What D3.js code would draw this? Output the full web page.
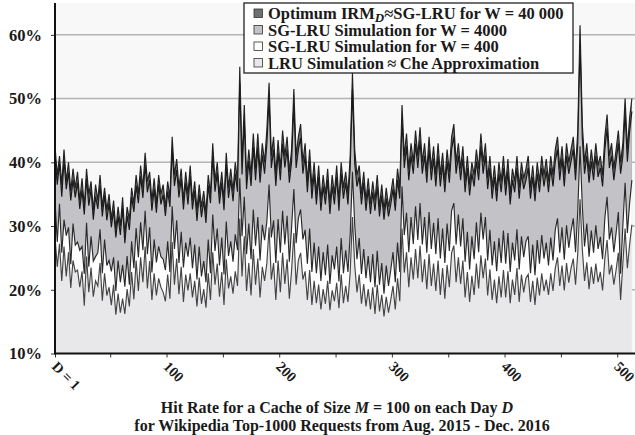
<!DOCTYPE html>
<html>
<head>
<meta charset="utf-8">
<script src="https://cdn.jsdelivr.net/npm/d3@7"></script>
<style>
  body { margin: 0; background: #ffffff; }
  text { font-family: "Liberation Serif", "Times New Roman", serif; font-weight: bold; fill: #1a1a1a; }
</style>
</head>
<body>
<div id="chart"></div>
<script>
// every 2nd day, D = 1 .. 513
var days = d3.range(1, 514, 2);

// Optimum IRM_D ~ SG-LRU for W = 40 000
var optimum = [
  42.5, 38, 41, 36.5, 42, 37, 40, 35.5, 39, 36,
  38.5, 34, 37.5, 33, 39, 35, 37, 32.5, 36.5, 34,
  38, 33, 36, 32.5, 35, 31, 34, 29.5, 33, 30,
  34.5, 28.5, 33, 31, 36, 33.5, 38, 35, 39.5, 36,
  41.5, 37, 38.5, 34, 37.5, 33.5, 38, 35, 36.5, 33,
  37, 34.5, 44, 38, 40.5, 36, 39, 34, 38.5, 35,
  39.5, 34, 37, 32.5, 36.5, 33, 35.5, 32, 38, 35,
  43, 37, 40, 35, 38.5, 34, 41.5, 36, 39, 35.5,
  40, 37, 55, 40, 49, 37.5, 42, 38, 44.5, 39,
  44.5, 38.5, 43, 40, 45, 52.5, 41, 44, 38, 43.5,
  39, 45, 41, 44, 38.5, 42, 51.5, 41, 44, 46,
  40, 43, 37, 42, 36, 40, 35, 39.5, 34, 38,
  35, 39, 33.5, 38, 35, 39.5, 34, 40, 36, 38.5,
  35, 41, 54, 42, 38, 39.5, 35, 38.5, 34, 37.5,
  33.5, 37, 34, 38, 33, 36.5, 32.5, 36, 33, 35,
  37.5, 34, 39, 36, 49, 41, 44.5, 39, 43, 40,
  45, 41, 45.5, 40, 43, 38.5, 44, 39, 42.5, 38,
  43, 38, 41.5, 37, 42, 38.5, 44, 46, 40, 43,
  39, 42.5, 37, 41, 36.5, 40, 38, 42, 39, 44.5,
  40, 43, 37.5, 41, 36, 39.5, 35.5, 40, 37, 41,
  36.5, 40.5, 35, 39, 37, 41, 36, 40, 37.5, 39,
  41, 36, 39.5, 35.5, 40, 37, 41, 38, 40.5, 37,
  41, 38, 42, 44, 39, 42.5, 38, 43, 40, 42,
  44, 39, 45, 61.5, 46, 40, 43, 38.5, 42, 39,
  43, 39.5, 41, 38, 44, 47.5, 41, 43, 39, 42,
  45, 40, 43, 50, 42, 47, 50
];

// SG-LRU simulation, W = 4000
var sg4000 = [
  41, 36.5, 39.8, 34.6, 40.3, 35.8, 38.4, 34, 37.2, 34.5,
  36.8, 32.7, 35.6, 31.8, 37.4, 33.2, 35.8, 31, 34.6, 32.7,
  36.4, 31.5, 34.8, 30.9, 33.6, 29.8, 32.4, 28.2, 31.5, 28.6,
  32.8, 27.3, 31.6, 29.4, 34.5, 32.2, 36.3, 33.6, 37.8, 34.4,
  39.6, 35.3, 37.2, 32.4, 35.8, 32.1, 36.5, 33.4, 34.9, 31.6,
  35.4, 33, 42, 36.3, 38.8, 34.5, 37.4, 32.6, 36.8, 33.4,
  37.8, 32.6, 35.5, 30.8, 34.9, 31.4, 33.9, 30.5, 36.3, 33.6,
  41, 35.4, 38.3, 33.5, 36.8, 32.5, 39.6, 34.4, 37.3, 33.9,
  38.2, 35.4, 52.5, 38.1, 46.5, 35.8, 40.2, 36.3, 42.4, 37.2,
  42.3, 36.8, 41.1, 38.2, 42.8, 50, 39.1, 42, 36.3, 41.5,
  37.2, 42.9, 39.2, 42, 36.8, 40.1, 49, 39.1, 42, 43.8,
  38.2, 41, 35.3, 40.1, 34.3, 38.2, 33.4, 37.7, 32.4, 36.2,
  33.4, 37.2, 31.9, 36.2, 33.4, 37.7, 32.4, 38.2, 34.3, 36.8,
  33.4, 39.1, 51.5, 39.8, 36.2, 37.7, 33.4, 36.8, 32.4, 35.8,
  31.9, 35.3, 32.4, 36.2, 31.5, 34.8, 31, 34.3, 31.5, 33.4,
  35.8, 32.4, 37.2, 34.3, 46.8, 39.1, 42.5, 37.2, 41, 38.2,
  42.9, 39.1, 43.4, 38.2, 41, 36.8, 42, 37.2, 40.6, 36.2,
  41, 36.2, 39.6, 35.3, 40.1, 36.8, 42, 44, 38.2, 41,
  37.2, 40.6, 35.3, 39.1, 34.8, 38.2, 36.2, 40.1, 37.2, 42.5,
  38.2, 41, 35.8, 39.1, 34.3, 37.7, 33.9, 38.2, 35.3, 39.1,
  34.8, 38.6, 33.4, 37.2, 35.3, 39.1, 34.3, 38.2, 35.8, 37.2,
  39.1, 34.3, 37.7, 33.9, 38.2, 35.3, 39.1, 36.2, 38.6, 35.3,
  39.1, 36.2, 40.1, 42, 37.2, 40.6, 36.2, 41, 38.2, 40.1,
  42, 37.2, 43, 58.5, 43.8, 38.2, 41, 36.8, 40.1, 37.2,
  41, 37.7, 39.1, 36.2, 42, 45.3, 39.1, 41, 37.2, 40.1,
  43, 38.2, 41, 47.8, 40.1, 44.8, 48
];

// SG-LRU simulation, W = 400
var sg400 = [
  34, 27.5, 33.5, 25.8, 31, 28.5, 29.8, 24, 30.4, 27,
  27.5, 26.2, 26.8, 22.5, 30.5, 23.6, 28.4, 24.5, 25.2, 25.8,
  29.5, 22.6, 27.9, 23.8, 24.6, 22.9, 25.1, 19.8, 24.6, 21.2,
  23.9, 20.5, 25.3, 20.8, 27.6, 23.4, 29.7, 25.1, 30.6, 26.2,
  32.4, 25.6, 29.8, 22.7, 27.9, 24.3, 26.8, 25.2, 24.8, 23.1,
  27.6, 22.8, 33.1, 26.4, 30.9, 24.2, 29.1, 23.5, 27.4, 25.2,
  28.2, 23.4, 27.1, 21.6, 26.8, 22.1, 24.5, 21.2, 27.9, 22.6,
  31.8, 26.1, 29.6, 23.8, 28.2, 22.4, 30.7, 25.3, 27.6, 24.4,
  28.7, 26.2, 37.5, 28.4, 34.6, 25.6, 30.4, 24.8, 32.6, 26.9,
  31.4, 24.6, 30.2, 27.8, 30.6, 36.5, 28.2, 30.9, 24.2, 31.1,
  25.8, 32.4, 27.1, 31.6, 24.4, 29.8, 35.8, 27.3, 31.2, 32.6,
  27.9, 29.4, 24.1, 29.6, 22.8, 27.4, 22.6, 26.8, 21.4, 25.9,
  22.3, 27.1, 20.9, 25.4, 23.2, 26.8, 21.3, 28.1, 22.6, 26.2,
  22.8, 28.6, 38.5, 30.2, 24.8, 28.1, 22.5, 26.4, 21.8, 25.3,
  21.2, 25.6, 20.4, 26.1, 20.8, 24.2, 19.4, 23.8, 20.6, 23.1,
  25.9, 21.2, 27.4, 22.8, 36.2, 28.6, 32.1, 25.9, 31.4, 27.2,
  33.1, 27.8, 33.6, 27.1, 31.4, 25.8, 32.2, 26.4, 30.5, 25.6,
  31.2, 24.9, 29.6, 24.2, 30.4, 26.1, 32.4, 33.6, 27.1, 31.8,
  26.8, 31.2, 24.4, 29.1, 23.2, 28.4, 24.8, 30.6, 25.9, 32.1,
  27.9, 31.4, 24.6, 29.4, 23.8, 27.6, 22.9, 28.1, 24.2, 29.3,
  24.1, 28.9, 22.8, 27.4, 24.6, 29.5, 23.2, 28.4, 25.1, 27.6,
  28.4, 22.6, 27.1, 22.3, 27.8, 24.1, 28.6, 24.9, 27.4, 23.8,
  28.2, 24.6, 29.4, 31.2, 25.8, 29.8, 24.7, 30.1, 26.6, 29.2,
  31.2, 25.9, 32.4, 42.5, 33.1, 26.8, 30.4, 25.2, 29.3, 25.8,
  30.1, 26.4, 28.3, 24.8, 31.2, 34.6, 27.9, 29.8, 25.9, 28.9,
  32.2, 22.5, 30.1, 36.8, 28.9, 33.6, 37.2
];

// LRU simulation ~ Che approximation
var lru = [
  28.4, 23.6, 27.2, 21.4, 26.8, 22.1, 25.9, 20.3, 24.6, 22.8,
  23.1, 20.4, 22.9, 17.5, 25.2, 19.6, 23.5, 18.9, 21.4, 20.6,
  24.2, 18.3, 22.6, 19.1, 20.4, 17.6, 20.8, 16.1, 19.4, 16.4,
  18.6, 16.2, 20.1, 17.4, 22.8, 18.5, 24.6, 19.8, 25.1, 21.2,
  26.8, 20.2, 24.5, 18.4, 22.6, 19.1, 21.8, 20.4, 19.6, 18.2,
  22.4, 18.6, 27.5, 20.8, 24.9, 19.3, 23.6, 18.1, 22.4, 19.9,
  22.6, 18.8, 21.4, 17.4, 21.9, 17.8, 20.1, 17.2, 22.6, 18.4,
  25.9, 20.8, 24.1, 18.9, 22.8, 17.6, 24.8, 20.2, 22.1, 19.4,
  22.9, 20.6, 31.2, 22.1, 28.4, 19.8, 24.2, 19.1, 26.4, 20.8,
  24.9, 18.8, 23.6, 21.4, 24.1, 29.8, 21.6, 24.2, 18.4, 24.6,
  19.6, 25.8, 20.9, 24.8, 18.6, 23.1, 28.9, 20.8, 24.6, 25.8,
  21.6, 22.9, 18.4, 23.1, 17.6, 21.4, 17.9, 20.8, 16.9, 20.1,
  17.8, 21.4, 16.8, 19.9, 18.2, 21.1, 17.1, 22.4, 17.9, 20.6,
  18.1, 22.8, 31.4, 23.9, 19.6, 22.4, 17.8, 20.9, 17.4, 20.1,
  16.9, 20.4, 16.2, 20.8, 16.6, 19.2, 15.8, 18.9, 16.4, 18.4,
  20.6, 16.9, 21.8, 18.2, 29.6, 22.7, 25.9, 20.4, 25.1, 21.6,
  26.4, 21.8, 26.9, 21.2, 24.8, 20.1, 25.6, 20.6, 24.1, 19.8,
  24.6, 19.2, 23.4, 18.6, 23.9, 20.4, 25.8, 26.9, 21.2, 25.1,
  20.9, 24.6, 18.8, 22.8, 18.1, 22.2, 19.2, 24.1, 20.2, 25.4,
  21.8, 24.9, 19.1, 23.2, 18.4, 21.6, 17.9, 22.1, 18.8, 23.1,
  18.8, 22.9, 17.9, 21.6, 19.2, 23.4, 18.1, 22.4, 19.6, 21.8,
  22.4, 18.1, 21.4, 17.6, 21.9, 19.1, 22.6, 19.8, 21.6, 19.2,
  22.6, 19.8, 23.4, 25.1, 20.6, 23.8, 19.9, 24.2, 21.1, 23.4,
  24.9, 20.8, 25.8, 34.2, 26.4, 21.4, 24.3, 20.1, 23.6, 20.9,
  24.1, 21.2, 22.8, 19.9, 24.9, 27.8, 22.4, 23.9, 20.8, 23.1,
  25.8, 18.4, 24.2, 29.6, 23.4, 27.1, 30.2
];

var yTicks = [10, 20, 30, 40, 50, 60];
var xTicks = [1, 50, 100, 150, 200, 250, 300, 350, 400, 450, 500];
var xLabels = [[1, "D = 1"], [100, "100"], [200, "200"], [300, "300"], [400, "400"], [500, "500"]];

var seriesList = [
  { name: "optimum", values: optimum, fill: "#6f6f6f", stroke: "#222222" },
  { name: "sg4000", values: sg4000, fill: "#c3c3c7", stroke: "#1a1a1a" },
  { name: "sg400", values: sg400, fill: "#ffffff", stroke: "#2a2a2a" },
  { name: "lru", values: lru, fill: "#e8e8ea", stroke: "#444444" }
];

var width = 635, height = 435;
var plotLeft = 55, plotRight = 633, plotTop = 3, plotBottom = 353.5;

var svg = d3.select("#chart").append("svg")
    .attr("width", width)
    .attr("height", height);

var x = d3.scaleLinear().domain([1, 514]).range([plotLeft, plotRight]);
var y = d3.scaleLinear().domain([10, 65]).range([plotBottom, plotTop]);

// plot background
svg.append("rect")
    .attr("x", plotLeft).attr("y", plotTop)
    .attr("width", width - plotLeft).attr("height", plotBottom - plotTop)
    .attr("fill", "#f8f8f8");

// grid lines
svg.append("g").selectAll("line").data(yTicks.slice(1)).enter().append("line")
    .attr("x1", plotLeft).attr("x2", width)
    .attr("y1", function(d) { return y(d); })
    .attr("y2", function(d) { return y(d); })
    .attr("stroke", "#b4b4b4")
    .attr("stroke-width", 1.5);

// areas, biggest first, each with its outline
seriesList.forEach(function(s) {
    var pts = days.map(function(d, i) { return [d, s.values[i]]; });
    var area = d3.area()
        .x(function(p) { return x(p[0]); })
        .y0(y(10))
        .y1(function(p) { return y(p[1]); });
    var line = d3.line()
        .x(function(p) { return x(p[0]); })
        .y(function(p) { return y(p[1]); });
    svg.append("path").datum(pts)
        .attr("d", area)
        .attr("fill", s.fill);
    svg.append("path").datum(pts)
        .attr("d", line)
        .attr("fill", "none")
        .attr("stroke", s.stroke)
        .attr("stroke-width", 1.15);
});

// y axis
var yAxis = svg.append("g")
    .attr("transform", "translate(" + plotLeft + ",0)")
    .call(d3.axisLeft(y).tickValues(yTicks).tickFormat(function(d) { return d + "%"; }).tickSize(4).tickPadding(9));
yAxis.select(".domain").remove();
yAxis.selectAll(".tick line").attr("stroke", "#333").attr("stroke-width", 1);
yAxis.selectAll("text")
    .style("font-size", "16.5px")
    .style("font-family", "Liberation Serif, serif")
    .style("font-weight", "bold")
    .attr("fill", "#1a1a1a");

// x axis
var xAxis = svg.append("g")
    .attr("transform", "translate(0," + plotBottom + ")")
    .call(d3.axisBottom(x).tickValues(xTicks).tickFormat("").tickSize(4));
xAxis.select(".domain").remove();
xAxis.selectAll(".tick line").attr("stroke", "#333").attr("stroke-width", 1);

svg.append("line")
    .attr("x1", plotLeft).attr("x2", width)
    .attr("y1", plotBottom).attr("y2", plotBottom)
    .attr("stroke", "#111").attr("stroke-width", 2);
svg.append("line")
    .attr("x1", plotLeft).attr("x2", plotLeft)
    .attr("y1", plotTop).attr("y2", plotBottom + 1)
    .attr("stroke", "#111").attr("stroke-width", 2);

svg.append("g").selectAll("text").data(xLabels).enter().append("text")
    .attr("transform", function(d) { return "translate(" + (x(d[0]) - 4) + "," + (plotBottom + 14) + ") rotate(45)"; })
    .style("font-size", "14.5px")
    .text(function(d) { return d[1]; });

// legend
var lg = svg.append("g").attr("transform", "translate(244,3)");
lg.append("rect")
    .attr("width", 329).attr("height", 70)
    .attr("fill", "#ffffff")
    .attr("stroke", "#222").attr("stroke-width", 1.3);

var rowY = [16, 32.5, 49, 65.5];
seriesList.forEach(function(s, i) {
    lg.append("rect")
        .attr("x", 10).attr("y", rowY[i] - 10)
        .attr("width", 8.5).attr("height", 8.5)
        .attr("fill", s.fill)
        .attr("stroke", "#333").attr("stroke-width", 0.8);
});

var legText = lg.append("g").style("font-size", "16.5px");
var t0 = legText.append("text").attr("x", 24).attr("y", rowY[0]);
t0.append("tspan").text("Optimum IRM");
t0.append("tspan").attr("dy", 3).style("font-style", "italic").style("font-size", "13px").text("D");
t0.append("tspan").attr("dy", -3).text("\u2248SG-LRU  for W = 40 000");
legText.append("text").attr("x", 24).attr("y", rowY[1]).text("SG-LRU Simulation for W = 4000");
legText.append("text").attr("x", 24).attr("y", rowY[2]).text("SG-LRU Simulation for W = 400");
legText.append("text").attr("x", 24).attr("y", rowY[3]).text("LRU Simulation\u2009\u2248\u2009Che Approximation");

// caption
var cap = svg.append("g").style("font-size", "16px").attr("text-anchor", "middle");
var c1 = cap.append("text").attr("x", 337).attr("y", 413);
c1.append("tspan").text("Hit Rate for a Cache of Size ");
c1.append("tspan").style("font-style", "italic").text("M");
c1.append("tspan").text(" = 100 on each Day ");
c1.append("tspan").style("font-style", "italic").text("D");
cap.append("text").attr("x", 342).attr("y", 431)
    .text("for Wikipedia Top-1000 Requests from Aug. 2015 - Dec. 2016");
</script>
</body>
</html>
